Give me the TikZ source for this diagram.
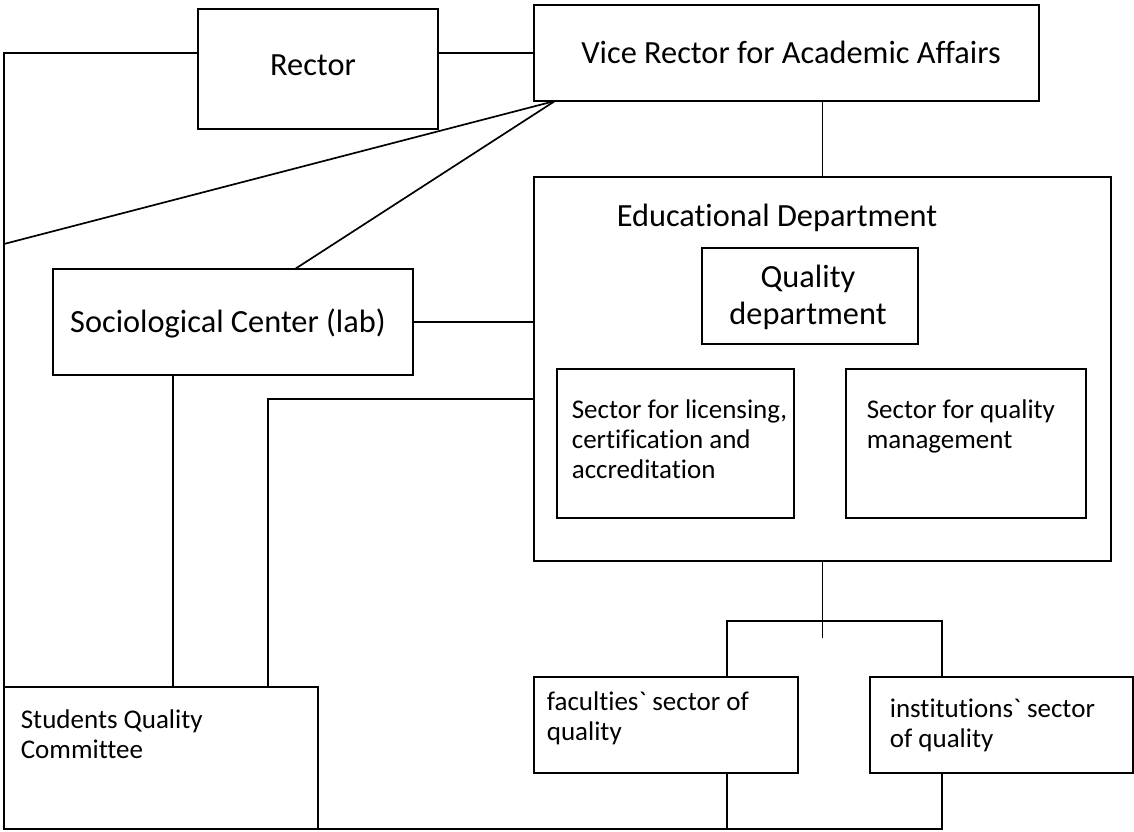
\documentclass[tikz,border=0pt]{standalone}
\usepackage{fontspec}
\setmainfont{Carlito}[Ligatures={TeXOff,CommonOff}]
\usetikzlibrary{fit,positioning}

\begin{document}
\begin{tikzpicture}[x=0.025cm,y=-0.025cm,line width=1.2pt]
\tikzset{Box/.style = {draw,rectangle,inner sep=0pt,outer sep=0pt},
         BigText/.style = {font=\fontsize{23}{26.3}\selectfont,
                           inner sep=0pt,align=center},
         SmallText/.style = {font=\fontsize{19.2}{21.2}\selectfont,
                             inner sep=0pt,align=left,anchor=north west}}
\useasboundingbox (0,0) rectangle (1134,832);
% boxes
\node[Box,fit={(198,9) (438,129)}] (rector) {};
\node[Box,fit={(534,5) (1039,101)}] (vr) {};
\node[Box,fit={(534,177) (1111,561)}] (ed) {};
\node[Box,fit={(702,248) (918,344)}] (qd) {};
\node[Box,fit={(557,369) (794,518)}] (lic) {};
\node[Box,fit={(846,369) (1086,518)}] (qm) {};
\node[Box,fit={(53,269) (413,375)}] (soc) {};
\node[Box,fit={(4,687) (318,829)}] (stud) {};
\node[Box,fit={(534,677) (798,773)}] (fac) {};
\node[Box,fit={(870,677) (1133,773)}] (inst) {};
% texts
\node[BigText] (rectorT) at (313,65) {Rector};
\node[BigText] (vrT) at (791,52) {Vice Rector for Academic Affairs};
\node[BigText] (edT) at (777,218) {Educational Department};
\node[BigText] (qdT) at (808,297) {Quality\\department};
\node[BigText] (socT) at (228,323) {Sociological Center (lab)};
\node[SmallText] (licT) at (571,399) {Sector for licensing,\\certification and\\accreditation};
\node[SmallText] (qmT) at (866,399) {Sector for quality\\management};
\node[SmallText] (studT) at (20,709) {Students Quality\\Committee};
\node[SmallText] (facT) at (546,691) {faculties` sector of\\quality};
\node[SmallText] (instT) at (889,698) {institutions` sector\\of quality};
% connectors
\coordinate (vrc) at (555,101);
\coordinate (lj) at (4,244);
\coordinate (sx) at (173,0);
\coordinate (ex) at (268,399);
\coordinate (fb) at (727,829);
\coordinate (ib) at (942,829);
\coordinate (bar) at (822,621);
\draw (rector.east |- vr.west) -- (vr.west);
\draw (rector.west |- vr.west) -| (stud.north west);
\draw (vrc) -- (lj);
\draw (vrc) -- (soc.north -| 295,0);
\draw (ed.north |- vr.south) -- (ed.north);
\draw (soc.east) -- (soc.east -| ed.west);
\draw (soc.south -| sx) -- (stud.north -| sx);
\draw (ed.west |- ex) -| (stud.north -| ex);
\draw (ed.south) -- (ed.south |- 0,638);
\draw (fb |- fac.north) |- (bar) -| (ib |- inst.north);
\draw (stud.south east) -- (ib) -- (ib |- inst.south);
\draw (fb) -- (fb |- fac.south);
\end{tikzpicture}
\end{document}
